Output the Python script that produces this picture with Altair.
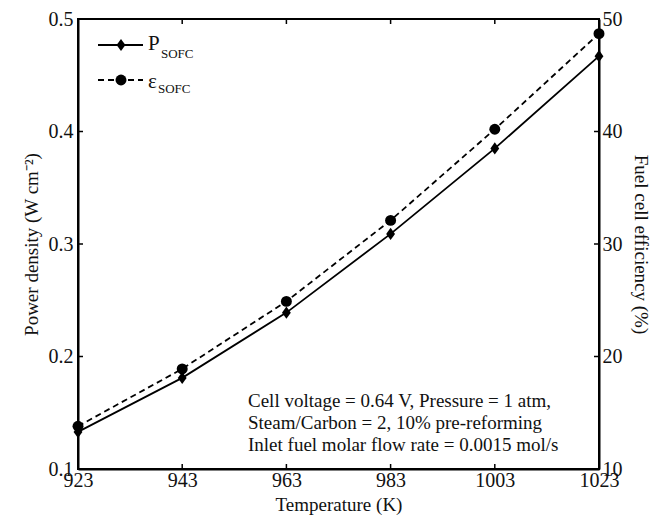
import altair as alt
import pandas as pd

temps = [923, 943, 963, 983, 1003, 1023]
power = [0.133, 0.181, 0.239, 0.309, 0.385, 0.467]
eff = [13.8, 18.9, 24.9, 32.1, 40.2, 48.7]
x_ticks = [923, 943, 963, 983, 1003, 1023]
yl_ticks = [0.1, 0.2, 0.3, 0.4, 0.5]
yr_ticks = [10, 20, 30, 40, 50]
notes = ["Cell voltage = 0.64 V, Pressure = 1 atm,",
         "Steam/Carbon = 2, 10% pre-reforming",
         "Inlet fuel molar flow rate = 0.0015 mol/s"]

W, H = 521, 450
FONT = "Liberation Serif"

df = pd.DataFrame({"T": temps, "P": power, "E": eff})
xt = pd.DataFrame({"T": x_ticks})
ylt = pd.DataFrame({"v": yl_ticks})
yrt = pd.DataFrame({"v": yr_ticks})

xscale = alt.Scale(domain=[923, 1023], nice=False, zero=False)
ylscale = alt.Scale(domain=[0.1, 0.5], nice=False, zero=False)
yrscale = alt.Scale(domain=[10, 50], nice=False, zero=False)

common = dict(tickSize=0, labelFontSize=20, titleFontSize=19, labelFont=FONT, titleFont=FONT,
              labelColor="#111", titleColor="#111", domainColor="black", domainWidth=2,
              grid=False, labelFlush=False, labelOverlap=False, titleFontWeight="normal")
xaxis = alt.Axis(values=x_ticks, title="Temperature (K)", labelPadding=1, format="d",
                 titlePadding=5, **common)
ylaxis = alt.Axis(values=yl_ticks, title="Power density (W cm⁻²)", labelPadding=5,
                  format=".1f", titlePadding=7, **common)
yraxis = alt.Axis(values=yr_ticks, title="Fuel cell efficiency (%)", orient="right",
                  labelPadding=3, format="d", titlePadding=8, **common)

diamond = "M0,-1L0.72,0L0,1L-0.72,0Z"
DSIZE = 150
CSIZE = 120

base = alt.Chart(df)
p_line = base.mark_line(color="black", strokeWidth=1.8).encode(
    x=alt.X("T:Q", scale=xscale, axis=xaxis),
    y=alt.Y("P:Q", scale=ylscale, axis=ylaxis))
p_pts = base.mark_point(shape=diamond, filled=True, color="black", size=DSIZE, opacity=1).encode(
    x=alt.X("T:Q", scale=xscale), y=alt.Y("P:Q", scale=ylscale))
l_ticks = alt.Chart(ylt).mark_rule(color="black", strokeWidth=1.5).encode(
    y=alt.Y("v:Q", scale=ylscale), x=alt.value(0), x2=alt.value(5))
left = alt.layer(p_line, p_pts, l_ticks)

e_line = base.mark_line(color="black", strokeWidth=1.8, strokeDash=[6, 4]).encode(
    x=alt.X("T:Q", scale=xscale),
    y=alt.Y("E:Q", scale=yrscale, axis=yraxis))
e_pts = base.mark_circle(color="black", size=CSIZE, opacity=1).encode(
    x=alt.X("T:Q", scale=xscale), y=alt.Y("E:Q", scale=yrscale))
r_ticks = alt.Chart(yrt).mark_rule(color="black", strokeWidth=1.5).encode(
    y=alt.Y("v:Q", scale=yrscale), x=alt.value(W), x2=alt.value(W - 5))
right = alt.layer(e_line, e_pts, r_ticks)

top_ticks = alt.Chart(xt).mark_rule(color="black", strokeWidth=1.5).encode(
    x=alt.X("T:Q", scale=xscale), y=alt.value(0), y2=alt.value(5))
bot_ticks = alt.Chart(xt).mark_rule(color="black", strokeWidth=1.5).encode(
    x=alt.X("T:Q", scale=xscale), y=alt.value(H), y2=alt.value(H - 5))

one = pd.DataFrame({"a": [0]})
leg_l1 = alt.Chart(one).mark_rule(color="black", strokeWidth=1.8).encode(
    x=alt.value(20), x2=alt.value(65), y=alt.value(26))
leg_p1 = alt.Chart(one).mark_point(shape=diamond, filled=True, color="black", size=DSIZE, opacity=1).encode(
    x=alt.value(43), y=alt.value(26))
leg_l2 = alt.Chart(one).mark_rule(color="black", strokeWidth=1.8, strokeDash=[6, 4]).encode(
    x=alt.value(20), x2=alt.value(65), y=alt.value(61))
leg_p2 = alt.Chart(one).mark_circle(color="black", size=CSIZE, opacity=1).encode(
    x=alt.value(43), y=alt.value(61))

t_P = alt.Chart(one).mark_text(text="P", font=FONT, fontSize=21, align="left", baseline="alphabetic",
                               color="#111").encode(x=alt.value(70), y=alt.value(31))
t_P2 = alt.Chart(one).mark_text(text="SOFC", font=FONT, fontSize=13, align="left", baseline="alphabetic",
                                color="#111").encode(x=alt.value(83), y=alt.value(39))
t_E = alt.Chart(one).mark_text(text="ε", font=FONT, fontSize=21, align="left", baseline="alphabetic",
                               color="#111").encode(x=alt.value(70), y=alt.value(69))
t_E2 = alt.Chart(one).mark_text(text="SOFC", font=FONT, fontSize=13, align="left", baseline="alphabetic",
                                color="#111").encode(x=alt.value(80), y=alt.value(74))

note_df = pd.DataFrame({"t": notes, "i": [0, 1, 2]})
note = alt.Chart(note_df).mark_text(font=FONT, fontSize=19, align="left", baseline="alphabetic",
                                    color="#111").encode(
    text="t:N", x=alt.value(170),
    y=alt.Y("i:Q", scale=alt.Scale(domain=[0, 2], range=[388, 432], zero=False, nice=False), axis=None))

chart = alt.layer(left, right).resolve_scale(y="independent")
chart = alt.layer(chart, top_ticks, bot_ticks, leg_l1, leg_p1, leg_l2, leg_p2,
                  t_P, t_P2, t_E, t_E2, note).resolve_scale(y="independent").properties(
    width=W, height=H,
    padding={"left": 78, "top": 19, "right": 61, "bottom": 48},
    autosize=alt.AutoSizeParams(type="none"),
    background="white"
).configure_view(stroke="black", strokeWidth=2)

chart.save("out.html", embed_options={"renderer": "svg", "actions": False})
